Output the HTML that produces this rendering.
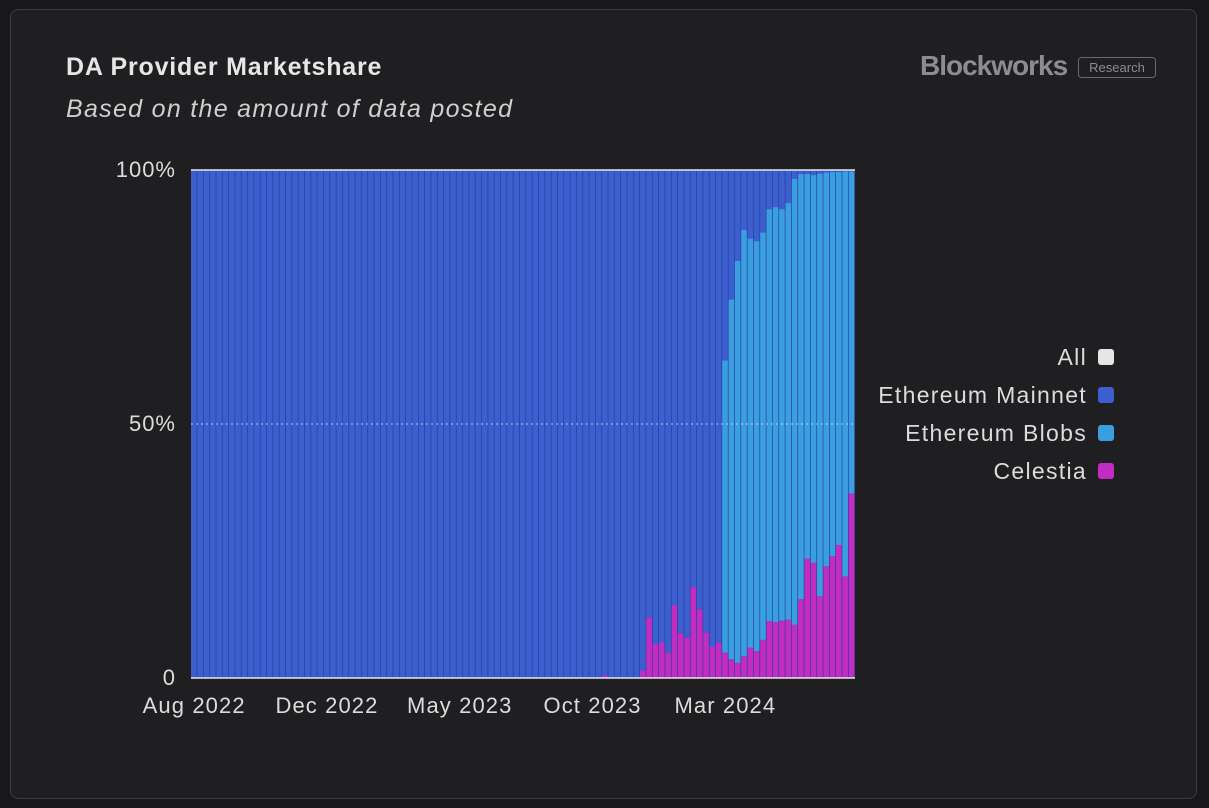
<!DOCTYPE html>
<html><head><meta charset="utf-8"><style>
html,body{margin:0;padding:0;background:#18181a;width:1209px;height:808px;overflow:hidden;font-family:"Liberation Sans",sans-serif}
.card{position:absolute;left:10px;top:9px;width:1185px;height:788px;background:#1f1f22;border:1px solid #3c3c40;border-radius:8px}
</style></head><body>
<div class="card"></div>
<svg width="1209" height="808" style="position:absolute;left:0;top:0">
<text x="66" y="75" fill="#e6e6e6" font-size="25" font-weight="bold" letter-spacing="0.8">DA Provider Marketshare</text>
<text x="66" y="117" fill="#cfcfcf" font-size="25" font-style="italic" letter-spacing="1.3">Based on the amount of data posted</text>
<text x="920" y="75" fill="#8d8d8f" font-size="28" font-weight="bold" letter-spacing="-1">Blockworks</text>
<rect x="1078.5" y="57.5" width="77" height="20" rx="3" fill="none" stroke="#6a6a6c"/>
<text x="1117" y="72" fill="#8d8d8f" font-size="13" text-anchor="middle">Research</text>
<rect x="191" y="170" width="664" height="508" fill="#2a3f9a"/>
<g id="bars"></g>
<line x1="191" x2="855" y1="170" y2="170" stroke="#e8e8f0" stroke-width="1.5"/>
<line x1="191" x2="855" y1="424" y2="424" stroke="#d0e0ff" stroke-width="1" stroke-dasharray="2,3" opacity="0.8"/>
<line x1="191" x2="855" y1="678" y2="678" stroke="#e8e8f0" stroke-width="1.5"/>
<g id="yticks" font-size="22" fill="#dcdcdc" text-anchor="end" letter-spacing="1"></g>
<g id="xticks" font-size="22" fill="#dcdcdc" text-anchor="middle" letter-spacing="1.1"></g>
<g id="legend" font-size="23" fill="#dcdcdc" text-anchor="end" letter-spacing="1.3"></g>
</svg>
<script>
const N=105;
const celestia=[0,0,0,0,0,0,0,0,0,0,0,0,0,0,0,0,0,0,0,0,0,0,0,0,0,0,0,0,0,0,0,0,0,0,0,0,0,0,0,0,0,0,0,0,0,0,0,0,0,0,0,0,0,0,0,0,0,0,0,0,0,0,0,0,0,0.5,0,0,0,0,0,1.5,11.9,6.7,7,5,14.3,8.8,7.9,17.9,13.5,9,6.2,7,5,3.7,3,4.3,6,5.3,7.5,11.2,11,11.3,11.5,10.5,15.5,23.5,22.7,16.1,22,24,26.2,20,36.3];
const blobTopVals=[62.5,74.5,82.1,88.2,86.5,86,87.7,92.3,92.7,92.3,93.5,98.3,99.2,99.2,99,99.3,99.5,99.6,99.6,99.7,99.7];
const blobs=[];
for(let i=0;i<N;i++){blobs.push(i<84?0:blobTopVals[i-84]-celestia[i]);}
const mainnet=celestia.map((c,i)=>100-c-blobs[i]);
const yTickVals=[100,50,0];
const yTickLabels=["100%","50%","0"];
const xTickIdx=[0,21,42,63,84];
const xTickLabels=["Aug 2022","Dec 2022","May 2023","Oct 2023","Mar 2024"];
const X0=191,X1=855,Y0=678,Y1=170,bw=(X1-X0)/N;
const xs=i=>X0+i*bw;
const ys=v=>Y0-(Y0-Y1)*v/100;
const NS="http://www.w3.org/2000/svg";
const g=document.getElementById('bars');
const series=[["celestia",celestia,"#c22cc0"],["blobs",blobs,"#3a9fe0"],["mainnet",mainnet,"#3b5fcf"]];
for(let i=0;i<N;i++){
  let base=0;
  for(const [nm,arr,col] of series){
    const v=arr[i]; if(v<=0) continue;
    const r=document.createElementNS(NS,'rect');
    r.setAttribute('x',xs(i));r.setAttribute('width',bw-0.7);
    r.setAttribute('y',ys(base+v));r.setAttribute('height',ys(base)-ys(base+v));
    r.setAttribute('fill',col);
    
    
    g.appendChild(r); base+=v;
  }
}
const yt=document.getElementById('yticks');
yTickVals.forEach((v,k)=>{const t=document.createElementNS(NS,'text');t.setAttribute('x',176);t.setAttribute('y',ys(v)+7);t.textContent=yTickLabels[k];


yt.appendChild(t);});
const xt=document.getElementById('xticks');
xTickIdx.forEach((idx,k)=>{const t=document.createElementNS(NS,'text');t.setAttribute('x',xs(idx)+bw/2);t.setAttribute('y',713);t.textContent=xTickLabels[k];


xt.appendChild(t);});
const lg=document.getElementById('legend');
const legItems=[["All","#e6e6e6"],["Ethereum Mainnet","#3b5fcf"],["Ethereum Blobs","#3a9fe0"],["Celestia","#c22cc0"]];
legItems.forEach((it,k)=>{const y=357+k*38;
const t=document.createElementNS(NS,'text');t.setAttribute('x',1087);t.setAttribute('y',y+8);t.textContent=it[0];


lg.appendChild(t);
const r=document.createElementNS(NS,'rect');r.setAttribute('x',1098);r.setAttribute('y',y-8);r.setAttribute('width',16);r.setAttribute('height',16);r.setAttribute('rx',3);r.setAttribute('fill',it[1]);


lg.appendChild(r);});
</script>
</body></html>
